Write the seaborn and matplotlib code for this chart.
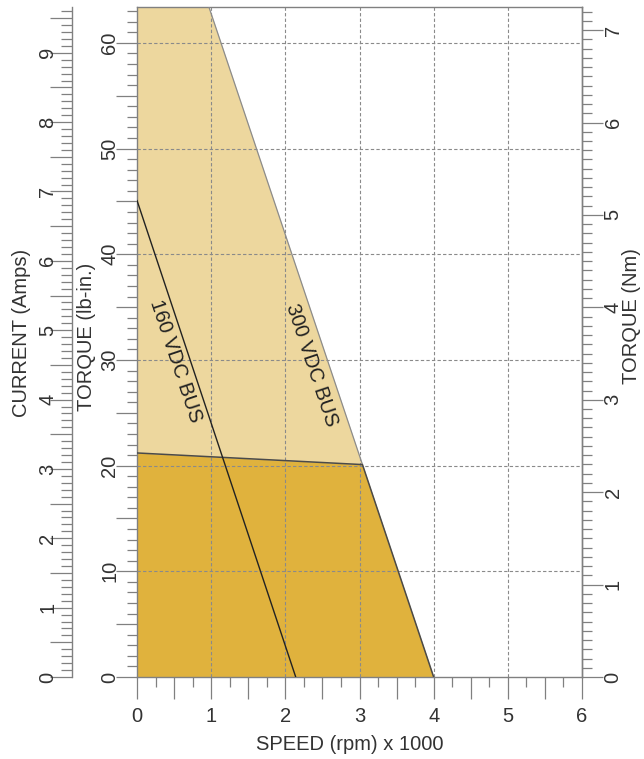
import numpy as np
import pandas as pd
import matplotlib
matplotlib.use("Agg")
import matplotlib.pyplot as plt
import seaborn as sns
from matplotlib.ticker import MultipleLocator, FuncFormatter

# ---------------- data ----------------
speed_peak = [0.0, 0.97, 3.04, 4.0]          # x 1000 rpm, 300 VDC bus peak envelope
torque_peak = [63.4, 63.4, 20.1, 0.0]        # lb-in
speed_cont = [0.0, 3.04, 4.0]                # continuous envelope
torque_cont = [21.2, 20.1, 0.0]
speed_160 = [0.0, 2.14]                      # 160 VDC bus line
torque_160 = [45.1, 0.0]

x_labels = [0, 1, 2, 3, 4, 5, 6]
torque_labels = [0, 10, 20, 30, 40, 50, 60]
current_labels = [0, 1, 2, 3, 4, 5, 6, 7, 8, 9]
nm_labels = [0, 1, 2, 3, 4, 5, 6, 7]

x_max = 6.0
torque_max = 63.4
current_max = 9.66
nm_max = 7.25

label_160 = "160 VDC BUS"
label_300 = "300 VDC BUS"

# ---------------- style ----------------
sns.set_style("white")
plt.rcParams["font.family"] = ["Liberation Sans", "DejaVu Sans"]
FS = 14.5
TXT = "#333333"
SPINE = "#808080"
LIGHT = "#EDD79E"
DARK = "#E0B23D"
PX = 72 / 100.0  # points per pixel at dpi 100

fig = plt.figure(figsize=(6.44, 7.59), dpi=100)
ax = fig.add_axes([137 / 644, (759 - 677) / 759, 445 / 644, 670 / 759])
ax.set_facecolor("white")

df_peak = pd.DataFrame({"speed": speed_peak, "torque": torque_peak})
df_cont = pd.DataFrame({"speed": speed_cont, "torque": torque_cont})
df_160 = pd.DataFrame({"speed": speed_160, "torque": torque_160})

# fills
ax.fill_between(df_peak["speed"], 0, df_peak["torque"], color=LIGHT, lw=0, zorder=1)
ax.fill_between(df_cont["speed"], 0, df_cont["torque"], color=DARK, lw=0, zorder=1.2)

# grid (drawn above the fills)
for v in x_labels[1:-1]:
    ax.axvline(v, color="#8a8a8a", lw=0.8, ls=(0, (3, 2)), zorder=2)
for v in torque_labels[1:]:
    ax.axhline(v, color="#8a8a8a", lw=0.8, ls=(0, (3, 2)), zorder=2)

# edges and the 160 V line
sns.lineplot(data=df_peak.iloc[1:3], x="speed", y="torque", ax=ax, color="#8c8c8c",
             lw=0.9, sort=False, estimator=None, zorder=3)
sns.lineplot(data=df_cont, x="speed", y="torque", ax=ax, color="#4a4a4a",
             lw=1.1, sort=False, estimator=None, zorder=3)
sns.lineplot(data=df_160, x="speed", y="torque", ax=ax, color="#222222",
             lw=1.0, sort=False, estimator=None, zorder=3)

ax.text(0.524, 29.9, label_160, rotation=-71.5, ha="center", va="center",
        rotation_mode="anchor", fontsize=FS, color="#222222", zorder=4)
ax.text(2.36, 29.55, label_300, rotation=-71.5, ha="center", va="center",
        rotation_mode="anchor", fontsize=FS, color="#222222", zorder=4)

ax.set_xlim(0, x_max)
ax.set_ylim(0, torque_max)

# spines
for s in ["left", "right", "top", "bottom"]:
    ax.spines[s].set_visible(True)
    ax.spines[s].set_color(SPINE)
    ax.spines[s].set_linewidth(1.0)

# x ticks: long at 0.5, labels on integers, short at 0.25
ax.xaxis.set_major_locator(MultipleLocator(0.5))
ax.xaxis.set_minor_locator(MultipleLocator(0.25))
ax.xaxis.set_major_formatter(FuncFormatter(
    lambda v, p: f"{int(round(v))}" if abs(v - round(v)) < 1e-6 and round(v) in x_labels else ""))
ax.tick_params(axis="x", which="major", direction="out", length=22 * PX, width=0.9,
               color=SPINE, labelsize=FS, labelcolor=TXT, pad=8 * PX, bottom=True, top=False)
ax.tick_params(axis="x", which="minor", direction="out", length=10 * PX, width=0.9,
               color=SPINE, bottom=True, top=False)

# torque (left) ticks: long every 5, labels every 10, short every 1
ax.yaxis.set_major_locator(MultipleLocator(5))
ax.yaxis.set_minor_locator(MultipleLocator(1))
ax.yaxis.set_major_formatter(FuncFormatter(
    lambda v, p: f"{int(round(v))}" if int(round(v)) in torque_labels and abs(v - round(v)) < 1e-6 else ""))
ax.tick_params(axis="y", which="major", direction="out", length=21 * PX, width=0.9,
               color=SPINE, labelsize=FS, labelcolor=TXT, pad=6 * PX,
               left=True, right=False, labelrotation=90)
ax.tick_params(axis="y", which="minor", direction="out", length=10 * PX, width=0.9,
               color=SPINE, left=True, right=False)
for lab in ax.get_yticklabels():
    lab.set_ha("center")
    lab.set_va("center")

ax.set_xlabel("SPEED (rpm) x 1000", fontsize=FS, color=TXT)
ax.xaxis.set_label_coords((350 - 137) / 445, (677 - 745) / 670)
ax.xaxis.label.set_va("center")
ax.set_ylabel("TORQUE (lb-in.)", fontsize=FS, color=TXT)
ax.yaxis.set_label_coords((87 - 137) / 445, (677 - 337) / 670)
ax.yaxis.label.set_va("center")

# current axis (far left)
ax_c = ax.twinx()
ax_c.set_ylim(0, current_max)
for s in ["right", "top", "bottom"]:
    ax_c.spines[s].set_visible(False)
ax_c.spines["left"].set_visible(True)
ax_c.spines["left"].set_position(("axes", (72 - 137) / 445))
ax_c.spines["left"].set_color(SPINE)
ax_c.spines["left"].set_linewidth(1.0)
ax_c.yaxis.set_ticks_position("left")
ax_c.yaxis.set_label_position("left")
ax_c.yaxis.set_major_locator(MultipleLocator(0.5))
ax_c.yaxis.set_minor_locator(MultipleLocator(0.1))
ax_c.yaxis.set_major_formatter(FuncFormatter(
    lambda v, p: f"{int(round(v))}" if abs(v - round(v)) < 1e-6 and int(round(v)) in current_labels else ""))
ax_c.tick_params(axis="y", which="major", direction="out", length=22 * PX, width=0.9,
                 color=SPINE, labelsize=FS, labelcolor=TXT, pad=2 * PX, labelrotation=90)
ax_c.tick_params(axis="y", which="minor", direction="out", length=11 * PX, width=0.9, color=SPINE)
for lab in ax_c.get_yticklabels():
    lab.set_ha("center")
    lab.set_va("center")
ax_c.set_ylabel("CURRENT (Amps)", fontsize=FS, color=TXT)
ax_c.yaxis.set_label_coords((22 - 137) / 445, (677 - 333) / 670)
ax_c.yaxis.label.set_va("center")
ax_c.grid(False)

# Nm axis (right)
ax_n = ax.twinx()
ax_n.set_ylim(0, nm_max)
for s in ["left", "top", "bottom"]:
    ax_n.spines[s].set_visible(False)
ax_n.spines["right"].set_color(SPINE)
ax_n.spines["right"].set_linewidth(1.0)
ax_n.yaxis.set_major_locator(MultipleLocator(1))
ax_n.yaxis.set_minor_locator(MultipleLocator(0.1))
ax_n.yaxis.set_major_formatter(FuncFormatter(
    lambda v, p: f"{int(round(v))}" if int(round(v)) in nm_labels else ""))
ax_n.tick_params(axis="y", which="major", direction="out", length=21 * PX, width=0.9,
                 color=SPINE, labelsize=FS, labelcolor=TXT, pad=10 * PX, labelrotation=90)
ax_n.tick_params(axis="y", which="minor", direction="out", length=10 * PX, width=0.9, color=SPINE)
for lab in ax_n.get_yticklabels():
    lab.set_ha("center")
    lab.set_va("center")
ax_n.set_ylabel("TORQUE (Nm)", fontsize=FS, color=TXT)
ax_n.yaxis.set_label_coords((631 - 137) / 445, (677 - 316) / 670)
ax_n.yaxis.label.set_va("center")
ax_n.grid(False)

fig.savefig("out.png", dpi=100)
